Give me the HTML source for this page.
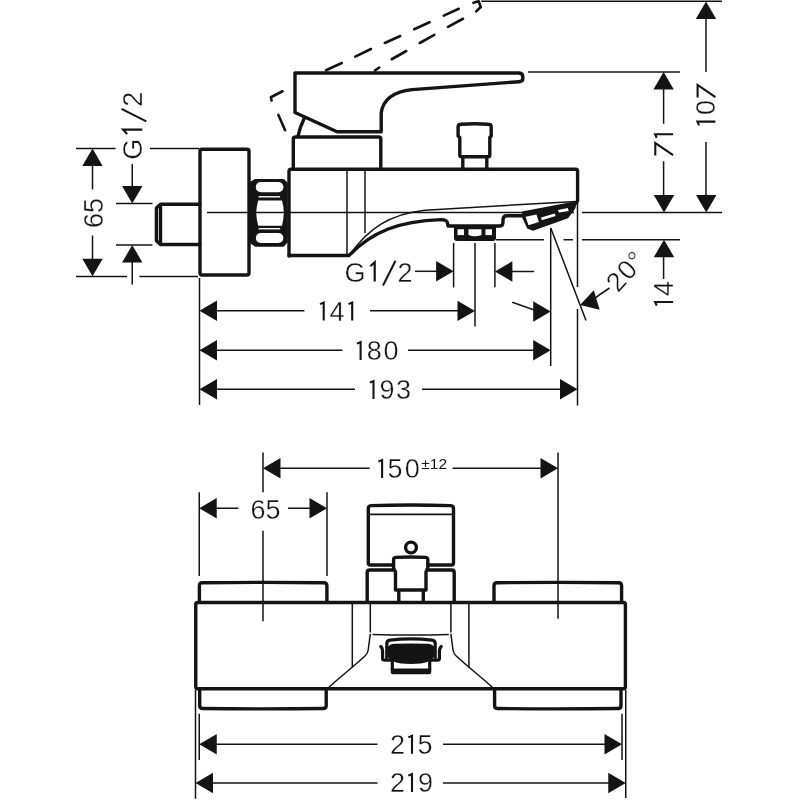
<!DOCTYPE html>
<html><head><meta charset="utf-8"><title>Drawing</title>
<style>svg{will-change:transform}html,body{margin:0;padding:0;background:#fff;width:800px;height:800px;overflow:hidden}svg{display:block}</style>
</head><body><svg width="800" height="800" viewBox="0 0 800 800"><g fill="none" stroke="#141414" stroke-width="1.5"><path d="M76 148.5H115.6M150 148.5H199"/><path d="M76 276.5H127M139.4 276.5H198"/><path d="M92.5 160V189.4M92.5 235.6V265"/><path d="M132.25 164V192M116 203.5H152.5M116 245H152.5M132.25 255V284.5"/><path d="M207 212.5H574M582 212.5H722"/><path d="M347 170V254M365 170V233"/><path d="M351 253C368 230 388 214 425 210.2L576 201.4"/><path d="M199.5 278V405"/><path d="M205 310.75H304.4M370 310.75H465"/><path d="M205 350.25H342.4M408 350.25H540"/><path d="M205 389.2H355M422 389.2H570"/><path d="M415 271.3H445"/><path d="M505 271.5H534.25"/><path d="M512.2 302.2Q522 305.5 535 310.3"/><path d="M453.6 243V287.6M475 243V326.6M494.9 243V287.3M550.7 228V366M577.5 201V287M577.5 309V405.4"/><path d="M550.75 228L586 320.5"/><path d="M496 239.7H544M563.5 239.7H573M582 239.7H680"/><path d="M528 72H680"/><path d="M481.25 1.25H722"/><path d="M663.6 80V123.75M663.6 161.25V202"/><path d="M706 10V72M706 142V202"/><path d="M663.6 250V279"/><path d="M590 302Q600 294 609.5 288"/><path d="M263 452.4V492.25M263 530.75V621.25M558 452.4V618.8"/><path d="M199.25 492.25V576M327 492.25V576"/><path d="M270 468.3H369.75M452.5 468.3H550"/><path d="M206 508.2H238.3M288 508.2H320"/><path d="M206 744.25H377.5M443 744.25H615"/><path d="M202 783H377.5M443 783H618"/><path d="M199.25 713.75V760M622 713.75V760"/><path d="M195.5 690V798.75M625.75 690V798"/><path d="M352.3 602V667.8M468.9 602V667.8M370.3 602V632.4M450.9 602V632.4"/><path d="M370.3 633.8L368.2 650C367.8 653 366.5 654.5 365.2 655.8C355 665.5 340 677 327.9 688.2"/><path d="M450.9 633.8L453 650C453.4 653 454.7 654.5 456 655.8C466.2 665.5 481.2 677 493.3 688.2"/><path d="M372.5 634.6Q410.6 635.6 448.75 634.6"/></g><g fill="none" stroke="#141414" stroke-width="3.4" stroke-linejoin="round" stroke-linecap="round"><path d="M200 151.3Q200 149.3 202 149.3H247Q249 149.3 249 151.3V273Q249 275 247 275H202Q200 275 200 273Z"/><path d="M200 204.3H160.5L156.4 208V240.8L160.5 244.5H200M160.5 206V243"/><path d="M289 256V171.4Q289 169.3 291 169.3H575.5Q577.6 169.3 577.6 171.4V201"/><path d="M289 255.5H349C372 232 398 221 441 219.6Q447 219.6 447.5 223L448 226H500Q503 226 503 222V219.8Q503 215.8 507 215.8H522.5M523.5 212.8L576.3 203"/><path d="M295 112.5V73H519Q522.8 73.3 522.8 76.8V78.5Q522.8 81.5 519 81.7L412 89.6C395 91.5 383 99 381.2 113V131.75H337Z"/><path d="M293.3 167.5V139Q293.3 137 295.5 137H378.8Q380.8 137 380.8 139V167.5"/><path d="M304.25 118.25Q300 127 297.9 136.5"/><path d="M459.8 155V137.5L458.1 136V127Q458.1 124.3 461 124.3Q474.6 123.3 488.3 124.3Q491.2 124.3 491.2 127V136L489.8 137.5V155Q489.8 156.8 488 156.8H461.6Q459.8 156.8 459.8 155ZM462.8 157V169M486.8 157V169"/><path d="M199.4 602V585.8Q199.4 582.8 202.4 582.8Q263 581.9 323.9 582.8Q326.9 582.8 326.9 585.8V602"/><path d="M494 602V585.8Q494 582.8 497 582.8Q558 581.9 618.6 582.8Q621.6 582.8 621.6 585.8V602"/><path d="M195.75 604.5Q195.75 602.5 197.75 602.5H623.4Q625.4 602.5 625.4 604.5V686.75Q625.4 688.75 623.4 688.75H197.75Q195.75 688.75 195.75 686.75Z"/><path d="M199.7 689V705.5Q199.7 708.5 202.7 708.5Q263 709.3 323.2 708.5Q326.2 708.5 326.2 705.5V689"/><path d="M494.6 689V705.5Q494.6 708.5 497.6 708.5Q558 709.3 618 708.5Q621 708.5 621 705.5V689"/><path d="M368.3 563V508.5Q368.3 505.8 371 505.6Q411 504.4 450.8 505.6Q453.5 505.8 453.5 508.5V563Q453.5 565 451.5 565H370.3Q368.3 565 368.3 563Z"/><path d="M367.2 602V572.5Q367.2 570 369.7 570H451.7Q454.2 570 454.2 572.5V602"/><circle cx="411" cy="547.5" r="5.4"/></g><path d="M369 514.4H453" stroke="#141414" stroke-width="1.8" fill="none"/><path d="M395.5 590V572L393.6 568V559.6Q393.6 557.6 395.6 557.4Q410.7 556.6 425.8 557.4Q427.8 557.6 427.8 559.6V568L426 572V590ZM398.8 590V602M423.3 590V602" fill="#fff" stroke="#141414" stroke-width="3.4" stroke-linejoin="round" stroke-linecap="round"/><path d="M250.5 183.4L255.8 180.4H283L286.3 183.4V241.8L283 245.3H255.8L250.5 241.8Z" fill="#141414" stroke="#141414" stroke-width="3" stroke-linejoin="round"/><g fill="#fff"><rect x="255.8" y="182" width="27.6" height="10.3" rx="5"/><rect x="258.6" y="196.1" width="21.5" height="1.4"/><path d="M258.2 200.6H282Q285.6 213.2 282 225.8H258.2Q254.4 213.2 258.2 200.6Z"/><rect x="258.6" y="228" width="21.5" height="1.4"/><rect x="255.8" y="233.1" width="27.6" height="9.9" rx="5"/></g><path d="M251 212.5H289" stroke="#141414" stroke-width="1.5"/><path d="M454 226H496V238Q496 241 493 241H457Q454 241 454 238Z" fill="#141414"/><g fill="#fff"><rect x="457.5" y="229.3" width="6.5" height="5.8"/><path d="M468.5 229.3H481.5V235Q475 237.5 468.5 235Z"/><rect x="485.5" y="229.3" width="6.5" height="5.8"/></g><path d="M521.2 215.5L523 212L576.5 202.5L575.5 208L573.3 211.5L568 218.3L533 230.8L527.2 228.6Z" fill="#141414"/><g fill="#fff"><path d="M525.6 216.8L536.5 214.5L538.8 222L528.5 225.3Z"/><path d="M541 217.6L554.8 213.6L555.6 216.1L541.8 220.2Z"/><path d="M558 210L567.8 208L568.7 210.9L559 212.6Z"/></g><g fill="none" stroke="#141414" stroke-width="2.6" stroke-linecap="round" stroke-linejoin="round"><path d="M282.5 91.25L270.9 97.25L271.6 100.6M278.4 114.9L285.1 130.25"/><path d="M326 70.2L341.75 63M355.25 56.7L371 49M384.8 43L400.25 36M414.2 29.25L429.5 22.2M443.75 15.6L458.75 8.75"/><path d="M473.5 2.8L478.6 1.2L480.8 7L476.3 11.3"/><path d="M375 70.5L379.25 67.5M391.7 59.25L406.25 51M419.75 43L434.3 34.8M448 26.9L463 18.75"/></g><g fill="#141414"><polygon points="92.50,148.50 82.30,166.00 102.70,166.00"/><polygon points="92.50,276.25 82.30,258.75 102.70,258.75"/><polygon points="132.25,203.50 122.05,186.00 142.45,186.00"/><polygon points="132.25,245.00 122.05,262.50 142.45,262.50"/><polygon points="199.50,310.75 217.00,300.55 217.00,320.95"/><polygon points="199.50,350.25 217.00,340.05 217.00,360.45"/><polygon points="199.50,389.20 217.00,379.00 217.00,399.40"/><polygon points="453.60,271.30 436.10,261.10 436.10,281.50"/><polygon points="475.00,310.90 457.50,300.70 457.50,321.10"/><polygon points="494.90,271.50 512.40,261.30 512.40,281.70"/><polygon points="550.70,311.50 533.20,301.30 533.20,321.70"/><polygon points="550.70,350.25 533.20,340.05 533.20,360.45"/><polygon points="577.50,389.20 560.00,379.00 560.00,399.40"/><polygon points="580.00,305.00 593.79,290.16 599.71,309.69"/><polygon points="706.00,1.50 695.80,19.00 716.20,19.00"/><polygon points="663.60,72.00 653.40,89.50 673.80,89.50"/><polygon points="664.00,212.50 653.80,195.00 674.20,195.00"/><polygon points="706.25,212.50 696.05,195.00 716.45,195.00"/><polygon points="664.00,239.70 653.80,257.20 674.20,257.20"/><polygon points="263.00,468.30 280.50,458.10 280.50,478.50"/><polygon points="558.00,468.30 540.50,458.10 540.50,478.50"/><polygon points="199.25,508.20 216.75,498.00 216.75,518.40"/><polygon points="327.00,508.20 309.50,498.00 309.50,518.40"/><polygon points="199.25,744.25 216.75,734.05 216.75,754.45"/><polygon points="622.00,744.25 604.50,734.05 604.50,754.45"/><polygon points="195.50,783.00 213.00,772.80 213.00,793.20"/><polygon points="625.75,783.00 608.25,772.80 608.25,793.20"/></g><g fill="#141414"><path d="M387.5 648Q388.5 644 395 643.8Q411 643 427 643.8Q433.5 644 434.5 648V655Q433 664 411 664Q389 664 387.5 655Z"/><path d="M390.8 668.5H431.2V672.2Q431.2 674.2 429.2 674.2H392.8Q390.8 674.2 390.8 672.2Z"/></g><g fill="none" stroke="#141414" stroke-width="3.2" stroke-linecap="round" stroke-linejoin="round"><path d="M386.8 658V643.5Q386.8 640.4 390 640.1Q411 637.8 432 640.1Q435.2 640.4 435.2 643.5V658"/><path d="M380.8 646.5Q382.6 648 382.6 652V658.5Q382.6 660.2 384.6 660.2H391M441.2 646.5Q439.4 648 439.4 652V658.5Q439.4 660.2 437.4 660.2H431"/><path d="M392.3 657V670M429.7 657V670"/></g><text font-family="&quot;Liberation Sans&quot;, sans-serif" fill="#141414" stroke="#fff" stroke-width="0.35" font-size="27" text-anchor="middle" transform="translate(103.00 213.00) rotate(-90)">65</text><g transform="translate(345.50 281.50) rotate(0)"><text font-family="&quot;Liberation Sans&quot;, sans-serif" fill="#141414" stroke="#fff" stroke-width="0.35" font-size="27" x="-1" y="0">G</text><path d="M24.8 -15.2L29.2 -19.2V0" stroke="#141414" stroke-width="2.2" fill="none" stroke-linejoin="miter"/><text font-family="&quot;Liberation Sans&quot;, sans-serif" fill="#141414" stroke="#fff" stroke-width="0.35" font-size="27" x="52" y="0">2</text><path d="M37.5 4L50 -20.8" stroke="#141414" stroke-width="2" fill="none"/></g><g transform="translate(142.30 158.80) rotate(-90)"><text font-family="&quot;Liberation Sans&quot;, sans-serif" fill="#141414" stroke="#fff" stroke-width="0.35" font-size="27" x="-1" y="0">G</text><path d="M24.8 -15.2L29.2 -19.2V0" stroke="#141414" stroke-width="2.2" fill="none" stroke-linejoin="miter"/><text font-family="&quot;Liberation Sans&quot;, sans-serif" fill="#141414" stroke="#fff" stroke-width="0.35" font-size="27" x="52" y="0">2</text><path d="M37.5 4L50 -20.8" stroke="#141414" stroke-width="2" fill="none"/></g><g transform="translate(0 320.50)"><path d="M320.00 -16.40L323.70 -18.00V0" stroke="#141414" stroke-width="2.1" fill="none" stroke-linejoin="miter"/><text font-family="&quot;Liberation Sans&quot;, sans-serif" fill="#141414" stroke="#fff" stroke-width="0.35" font-size="27" text-anchor="middle" x="337.00" y="0">4</text><path d="M348.50 -16.40L352.20 -18.00V0" stroke="#141414" stroke-width="2.1" fill="none" stroke-linejoin="miter"/></g><g transform="translate(0 360.00)"><path d="M356.90 -16.40L360.60 -18.00V0" stroke="#141414" stroke-width="2.1" fill="none" stroke-linejoin="miter"/><text font-family="&quot;Liberation Sans&quot;, sans-serif" fill="#141414" stroke="#fff" stroke-width="0.35" font-size="27" text-anchor="middle" x="374.30" y="0">8</text><text font-family="&quot;Liberation Sans&quot;, sans-serif" fill="#141414" stroke="#fff" stroke-width="0.35" font-size="27" text-anchor="middle" x="390.90" y="0">0</text></g><g transform="translate(0 399.00)"><path d="M369.80 -16.40L373.50 -18.00V0" stroke="#141414" stroke-width="2.1" fill="none" stroke-linejoin="miter"/><text font-family="&quot;Liberation Sans&quot;, sans-serif" fill="#141414" stroke="#fff" stroke-width="0.35" font-size="27" text-anchor="middle" x="387.00" y="0">9</text><text font-family="&quot;Liberation Sans&quot;, sans-serif" fill="#141414" stroke="#fff" stroke-width="0.35" font-size="27" text-anchor="middle" x="403.50" y="0">3</text></g><g transform="translate(715.40 0) rotate(-90)"><path d="M-125.30 -16.40L-121.60 -18.00V0" stroke="#141414" stroke-width="2.1" fill="none" stroke-linejoin="miter"/><text font-family="&quot;Liberation Sans&quot;, sans-serif" fill="#141414" stroke="#fff" stroke-width="0.35" font-size="27" text-anchor="middle" x="-107.50" y="0">0</text><path d="M-97.50 -17.80H-85.00L-97.10 0" stroke="#141414" stroke-width="2.1" fill="none" stroke-linejoin="miter"/></g><g transform="translate(673.10 0) rotate(-90)"><path d="M-155.55 -17.80H-143.05L-155.15 0" stroke="#141414" stroke-width="2.1" fill="none" stroke-linejoin="miter"/><path d="M-137.90 -16.40L-134.20 -18.00V0" stroke="#141414" stroke-width="2.1" fill="none" stroke-linejoin="miter"/></g><g transform="translate(673.10 0) rotate(-90)"><path d="M-305.70 -16.40L-302.00 -18.00V0" stroke="#141414" stroke-width="2.1" fill="none" stroke-linejoin="miter"/><text font-family="&quot;Liberation Sans&quot;, sans-serif" fill="#141414" stroke="#fff" stroke-width="0.35" font-size="27" text-anchor="middle" x="-288.50" y="0">4</text></g><text font-family="&quot;Liberation Sans&quot;, sans-serif" fill="#141414" stroke="#fff" stroke-width="0.35" font-size="27" text-anchor="start" letter-spacing="1" transform="translate(618.00 293.50) rotate(-48)">20°</text><g transform="translate(0 478.00)"><path d="M378.40 -16.40L382.10 -18.00V0" stroke="#141414" stroke-width="2.1" fill="none" stroke-linejoin="miter"/><text font-family="&quot;Liberation Sans&quot;, sans-serif" fill="#141414" stroke="#fff" stroke-width="0.35" font-size="27" text-anchor="middle" x="395.00" y="0">5</text><text font-family="&quot;Liberation Sans&quot;, sans-serif" fill="#141414" stroke="#fff" stroke-width="0.35" font-size="27" text-anchor="middle" x="412.30" y="0">0</text></g><text font-family="&quot;Liberation Sans&quot;, sans-serif" fill="#141414" stroke="#fff" stroke-width="0" font-size="15.5" text-anchor="start" transform="translate(421.30 468.50) rotate(0)">±12</text><text font-family="&quot;Liberation Sans&quot;, sans-serif" fill="#141414" stroke="#fff" stroke-width="0.35" font-size="27" text-anchor="middle" transform="translate(265.50 518.50) rotate(0)">65</text><g transform="translate(0 753.80)"><text font-family="&quot;Liberation Sans&quot;, sans-serif" fill="#141414" stroke="#fff" stroke-width="0.35" font-size="27" text-anchor="middle" x="397.40" y="0">2</text><path d="M408.30 -16.40L412.00 -18.00V0" stroke="#141414" stroke-width="2.1" fill="none" stroke-linejoin="miter"/><text font-family="&quot;Liberation Sans&quot;, sans-serif" fill="#141414" stroke="#fff" stroke-width="0.35" font-size="27" text-anchor="middle" x="424.90" y="0">5</text></g><g transform="translate(0 792.00)"><text font-family="&quot;Liberation Sans&quot;, sans-serif" fill="#141414" stroke="#fff" stroke-width="0.35" font-size="27" text-anchor="middle" x="397.40" y="0">2</text><path d="M408.30 -16.40L412.00 -18.00V0" stroke="#141414" stroke-width="2.1" fill="none" stroke-linejoin="miter"/><text font-family="&quot;Liberation Sans&quot;, sans-serif" fill="#141414" stroke="#fff" stroke-width="0.35" font-size="27" text-anchor="middle" x="425.50" y="0">9</text></g></svg></body></html>
